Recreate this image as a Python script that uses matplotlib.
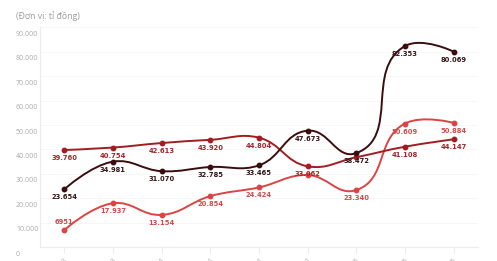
import math
import matplotlib
matplotlib.use("Agg")
import matplotlib.pyplot as plt
from matplotlib.path import Path
from matplotlib.patches import PathPatch
from matplotlib.transforms import ScaledTranslation

# ---------------- data ----------------
categories = ["Q3/2023", "Q4/2023", "Q1/2024", "Q2/2024", "Q3/2024",
              "Q4/2024", "Q1/2025", "Q2/2025", "Q3/2025"]
series_darkred = [39760, 40754, 42613, 43920, 44804, 33062, 36800, 41108, 44147]
series_black = [23654, 34981, 31070, 32785, 33465, 47673, 38472, 82353, 80069]
series_light = [6951, 17937, 13154, 20854, 24424, 29500, 23340, 50609, 50884]
y_ticks = [0, 10000, 20000, 30000, 40000, 50000, 60000, 70000, 80000, 90000]
unit_label = "(Đơn vị: tỉ đồng)"

# labels hidden (overlap) / placed above
hidden = {("darkred", 6), ("light", 5)}
above = {("light", 0)}

W, H = 497, 261
fig = plt.figure(figsize=(W / 100, H / 100), dpi=100)
fig.patch.set_facecolor("white")
ax_l, ax_r, ax_t, ax_b = 40, 478, 27.4, 247
ax = fig.add_axes([ax_l / W, 1 - ax_b / H, (ax_r - ax_l) / W, (ax_b - ax_t) / H])
ax.set_xlim(-0.5, len(categories) - 0.5)
ax.set_ylim(0, 90000)

for s in ["top", "right"]:
    ax.spines[s].set_visible(False)
for s in ["left", "bottom"]:
    ax.spines[s].set_color("#ececec")
    ax.spines[s].set_linewidth(0.8)

ax.set_yticks(y_ticks)
ax.set_yticklabels(["0" if v == 0 else f"{v:,}".replace(",", ".") for v in y_ticks])
ax.tick_params(axis="y", length=0, pad=17.3, labelsize=5, labelcolor="#ababab")
for lab in ax.get_yticklabels():
    lab.set_fontfamily("Open Sans")
    lab.set_horizontalalignment("left")
    lab.set_transform(lab.get_transform() + ScaledTranslation(0, -6 / 100, fig.dpi_scale_trans))
for v in y_ticks[1:]:
    ax.axhline(v, color="#f6f6f6", lw=0.6, zorder=0)

ax.set_xticks(range(len(categories)))
ax.set_xticklabels(categories, rotation=45, ha="right", va="top", rotation_mode="anchor",
                   fontsize=5, color="#b0b0b0", fontfamily="Open Sans")
ax.tick_params(axis="x", length=4, color="#ececec", pad=3)

fig.text(16 / W, 1 - 16 / H, unit_label, fontsize=6.3, color="#9a9a9a",
         fontfamily="Open Sans", ha="left", va="center")


def hc_spline(xs, ys):
    """Highcharts-style spline control points computed in pixel space."""
    disp = ax.transData.transform(list(zip(xs, ys)))
    px = [p[0] for p in disp]
    py = [-p[1] for p in disp]
    sm = 1.5
    den = sm + 1
    n = len(px)
    rc = [None] * n
    lc = [None] * n
    for i in range(1, n - 1):
        lx = (sm * px[i] + px[i - 1]) / den
        ly = (sm * py[i] + py[i - 1]) / den
        rx = (sm * px[i] + px[i + 1]) / den
        ry = (sm * py[i] + py[i + 1]) / den
        dl = math.hypot(lx - px[i], ly - py[i])
        dr = math.hypot(rx - px[i], ry - py[i])
        la = math.atan2(ly - py[i], lx - px[i])
        ra = math.atan2(ry - py[i], rx - px[i])
        ja = math.pi / 2 + (la + ra) / 2
        if abs(la - ja) > math.pi / 2:
            ja -= math.pi
        lc[i] = (px[i] + math.cos(ja) * dl, py[i] + math.sin(ja) * dl)
        rc[i] = (px[i] + math.cos(math.pi + ja) * dr, py[i] + math.sin(math.pi + ja) * dr)
    verts = [(px[0], py[0])]
    codes = [Path.MOVETO]
    for i in range(1, n):
        c1 = rc[i - 1] if rc[i - 1] else (px[i - 1], py[i - 1])
        c2 = lc[i] if lc[i] else (px[i], py[i])
        verts += [c1, c2, (px[i], py[i])]
        codes += [Path.CURVE4] * 3
    inv = ax.transData.inverted()
    dverts = inv.transform([(x, -y) for x, y in verts])
    return Path(dverts, codes)


def fmt(v):
    return f"{v:,}".replace(",", ".") if v >= 10000 else str(v)


specs = [
    ("light", series_light, "#dc4444", "#d24a4a", 2),
    ("darkred", series_darkred, "#a11d22", "#a3262b", 3),
    ("black", series_black, "#3b0d0f", "#33161a", 4),
]
xs = list(range(len(categories)))
for name, vals, lc_, tc, z in specs:
    path = hc_spline(xs, vals)
    ax.add_patch(PathPatch(path, fill=False, edgecolor=lc_, lw=1.4, zorder=z,
                           capstyle="round", joinstyle="round"))
    ax.plot(xs, vals, ls="none", marker="o", ms=3.2, color=lc_, zorder=z)
    for i, v in enumerate(vals):
        if (name, i) in hidden:
            continue
        dy = 8 if (name, i) in above else -8
        ax.annotate(fmt(v), (i, v), xytext=(0, dy * 0.72), textcoords="offset points",
                    ha="center", va="center", fontsize=4.9, fontweight="bold",
                    color=tc, fontfamily="DejaVu Sans", zorder=10)

fig.savefig("out.png", dpi=100, facecolor="white")
